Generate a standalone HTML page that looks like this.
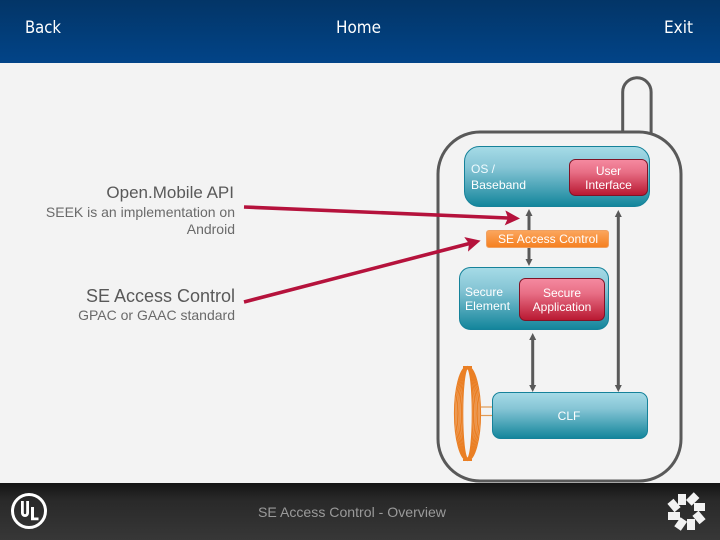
<!DOCTYPE html>
<html><head><meta charset="utf-8"><style>
html,body{margin:0;padding:0;background:#f3f3f3}
svg{display:block}
text{font-family:"Liberation Sans",sans-serif}
</style></head><body>
<svg xmlns="http://www.w3.org/2000/svg" width="720" height="540" viewBox="0 0 720 540">
<defs>
<linearGradient id="hd" x1="0" y1="0" x2="0" y2="1"><stop offset="0" stop-color="#033567"/><stop offset="1" stop-color="#024488"/></linearGradient>
<linearGradient id="ft" x1="0" y1="0" x2="0" y2="1"><stop offset="0" stop-color="#141414"/><stop offset=".3" stop-color="#292929"/><stop offset="1" stop-color="#373737"/></linearGradient>
<linearGradient id="teal" x1="0" y1="0" x2="0" y2="1"><stop offset="0" stop-color="#a6dbe7"/><stop offset=".35" stop-color="#86c5d5"/><stop offset="1" stop-color="#12859b"/></linearGradient>
<linearGradient id="red" x1="0" y1="0" x2="0" y2="1"><stop offset="0" stop-color="#f58aa0"/><stop offset=".35" stop-color="#e86f86"/><stop offset="1" stop-color="#b81730"/></linearGradient>
<linearGradient id="or" x1="0" y1="0" x2="0" y2="1"><stop offset="0" stop-color="#fba65e"/><stop offset="1" stop-color="#f57f1f"/></linearGradient>
<marker id="g" markerUnits="userSpaceOnUse" markerWidth="8" markerHeight="8" refX="3" refY="4" orient="auto-start-reverse"><path d="M0 .5L7 4L0 7.500Z" fill="#595959"/></marker>
<marker id="r" markerUnits="userSpaceOnUse" markerWidth="16" markerHeight="16" refX="3" refY="7.500" orient="auto"><path d="M0 0L15 7.500L0 15L3 7.500Z" fill="#b5123c"/></marker>
</defs>
<rect width="720" height="540" fill="#f3f3f3"/>
<rect width="720" height="63" fill="url(#hd)"/>
<g fill="#fff" font-size="17">
<text x="25" y="33" textLength="36" lengthAdjust="spacingAndGlyphs" style="font-family:'DejaVu Sans',sans-serif">Back</text>
<text x="336" y="33" textLength="45" lengthAdjust="spacingAndGlyphs" style="font-family:'DejaVu Sans',sans-serif">Home</text>
<text x="664" y="33" textLength="29" lengthAdjust="spacingAndGlyphs" style="font-family:'DejaVu Sans',sans-serif">Exit</text>
</g>

<!-- phone -->
<path d="M622.7 132V92a14.2 14.2 0 0 1 28.4 0V134" fill="none" stroke="#595959" stroke-width="3"/>
<rect x="438" y="132" width="243" height="349" rx="42" ry="42" fill="#f3f3f3" stroke="#595959" stroke-width="3"/>

<!-- connectors -->
<g stroke="#595959" stroke-width="3" fill="none">
<line x1="529" y1="213" x2="529" y2="262" marker-start="url(#g)" marker-end="url(#g)"/>
<line x1="618.3" y1="214" x2="618.3" y2="388" marker-start="url(#g)" marker-end="url(#g)"/>
<line x1="532.700" y1="337" x2="532.700" y2="388" marker-start="url(#g)" marker-end="url(#g)"/>
</g>

<!-- boxes -->
<rect x="464.500" y="146.500" width="185" height="60" rx="15" fill="url(#teal)" stroke="#15829a"/>
<rect x="569.500" y="159.500" width="78" height="36" rx="6" fill="url(#red)" stroke="#7f1326"/>
<rect x="486.500" y="230.500" width="122" height="17" rx="2.500" fill="url(#or)" stroke="#f0a060"/>
<rect x="459.500" y="267.500" width="149" height="62" rx="11" fill="url(#teal)" stroke="#15829a"/>
<rect x="519.500" y="278.500" width="85" height="42" rx="6" fill="url(#red)" stroke="#7f1326"/>
<rect x="492.500" y="392.500" width="155" height="46" rx="8" fill="url(#teal)" stroke="#15829a"/>

<!-- coil -->
<g fill="none" stroke="#ea7f24" stroke-width="1.200">
<ellipse cx="467.500" cy="413.500" rx="13" ry="47"/>
<ellipse cx="467.500" cy="413.500" rx="11.600" ry="46.600"/>
<ellipse cx="467.500" cy="413.500" rx="10.200" ry="46.200"/>
<ellipse cx="467.500" cy="413.500" rx="8.800" ry="45.800"/>
<ellipse cx="467.500" cy="413.500" rx="7.400" ry="45.400"/>
<ellipse cx="467.500" cy="413.500" rx="6" ry="45"/>
<ellipse cx="467.500" cy="413.500" rx="4.800" ry="44.600"/>
<path d="M463 367h9M463 460h9" stroke-width="2"/>
<line x1="481" y1="407" x2="492" y2="407" stroke="#e09a55"/>
<line x1="481" y1="415.500" x2="492" y2="415.500" stroke="#e09a55"/>
</g>

<!-- labels in boxes -->
<g fill="#fff" font-size="12">
<text x="471" y="173" textLength="24" fill="#f0fbff">OS /</text>
<text x="471" y="189" textLength="55" lengthAdjust="spacingAndGlyphs">Baseband</text>
<text x="608.500" y="175" text-anchor="middle">User</text>
<text x="608.500" y="189" text-anchor="middle">Interface</text>
<text x="548" y="243" text-anchor="middle" textLength="100" lengthAdjust="spacingAndGlyphs">SE Access Control</text>
<text x="465" y="296">Secure</text>
<text x="465" y="310" textLength="45" lengthAdjust="spacingAndGlyphs">Element</text>
<text x="562" y="297" text-anchor="middle">Secure</text>
<text x="562" y="311" text-anchor="middle">Application</text>
<text x="569" y="420" text-anchor="middle">CLF</text>
</g>

<!-- left labels -->
<text x="234" y="198" text-anchor="end" font-size="17" fill="#595959">Open.Mobile API</text>
<text x="235" y="217" text-anchor="end" font-size="14" fill="#6a6a6a">SEEK is an implementation on</text>
<text x="235" y="234" text-anchor="end" font-size="14" fill="#6a6a6a">Android</text>
<text x="235" y="302" text-anchor="end" font-size="18" fill="#595959">SE Access Control</text>
<text x="235" y="320" text-anchor="end" font-size="14" fill="#6a6a6a">GPAC or GAAC standard</text>

<!-- red arrows -->
<g stroke="#b5123c" stroke-width="3.600" fill="none">
<line x1="244" y1="207" x2="508" y2="218" marker-end="url(#r)"/>
<line x1="244" y1="302" x2="469" y2="243.600" marker-end="url(#r)"/>
</g>

<!-- footer -->
<rect y="483" width="720" height="57" fill="url(#ft)"/>
<text x="258" y="517" font-size="14" fill="#9a9a9a" textLength="188" lengthAdjust="spacingAndGlyphs">SE Access Control - Overview</text>
<circle cx="29" cy="511" r="16.500" fill="none" stroke="#fff" stroke-width="3"/>
<path d="M21 501v12a4 4 0 0 0 8 0v-12h-2.800v12a1.200 1.200 0 0 1-2.400 0v-12Z" fill="#fff"/>
<path d="M31 507h3v10.500h4.500v2.800h-7.500Z" fill="#fff"/>
<g fill="#f2f2f2">
<rect x="678" y="494" width="8" height="11"/>
<rect x="688.700" y="493.500" width="8" height="11" transform="rotate(45 692.700 499)"/>
<rect x="694" y="503" width="11" height="8"/>
<rect x="695" y="512" width="8" height="11" transform="rotate(-40 699 517.500)"/>
<rect x="687" y="519" width="8" height="11"/>
<rect x="676.700" y="518.500" width="8" height="11" transform="rotate(35 680.700 524)"/>
<rect x="668" y="512" width="12" height="8"/>
<rect x="670" y="500" width="8" height="11" transform="rotate(-40 674 505.500)"/>
</g>
</svg>
</body></html>
